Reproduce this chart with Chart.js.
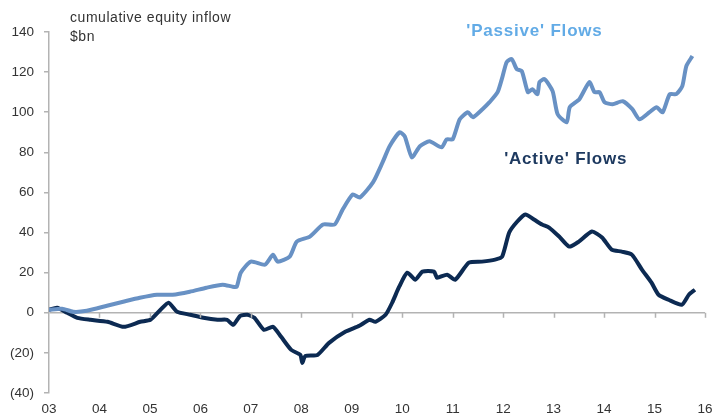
<!DOCTYPE html>
<html>
<head>
<meta charset="utf-8">
<script src="https://cdn.jsdelivr.net/npm/chart.js@4"></script>
<style>
  body { margin: 0; background: #fff; }
  canvas { display: block; }
</style>
</head>
<body>
<canvas id="flows" width="712" height="419"></canvas>
<script>
// cumulative equity inflow, $bn
const yearTicks = [2003, 2004, 2005, 2006, 2007, 2008, 2009, 2010, 2011, 2012, 2013, 2014, 2015, 2016]

const passiveYears = [2003.0, 2003.26, 2003.48, 2003.75, 2004.15, 2004.47, 2004.8, 2005.14, 2005.45, 2005.79,
  2006.12, 2006.44, 2006.64, 2006.72, 2006.8, 2007.0, 2007.28, 2007.44, 2007.53, 2007.77, 2007.91,
  2008.17, 2008.43, 2008.66, 2008.82, 2009.02, 2009.16, 2009.42, 2009.61, 2009.75, 2009.95,
  2010.05, 2010.19, 2010.35, 2010.54, 2010.78, 2010.88, 2011.0, 2011.14, 2011.3, 2011.4, 2011.59,
  2011.73, 2011.89, 2011.99, 2012.07, 2012.17, 2012.27, 2012.37, 2012.49, 2012.58, 2012.68, 2012.72,
  2012.82, 2012.98, 2013.08, 2013.26, 2013.32, 2013.51, 2013.71, 2013.81, 2013.91, 2014.01, 2014.17,
  2014.37, 2014.56, 2014.7, 2014.9, 2015.04, 2015.16, 2015.3, 2015.43, 2015.55, 2015.63, 2015.75]
const passiveFlows = [1.5, 2, 0.5, 1, 3.5, 5.5, 7.5, 9, 9, 10.5,
  12.5, 14, 13, 13, 20, 25.5, 24, 29, 25.5, 28, 35.5,
  38, 44, 44, 51.5, 59, 57.5, 65, 75, 83, 90,
  88, 77.5, 83, 85.5, 82.5, 86.5, 86.5, 96.5, 100, 97.5, 101.5,
  105, 110, 118, 125, 126.5, 121.5, 120.5, 110, 111.5, 109, 115,
  116.5, 110.5, 99, 95, 102.5, 106.5, 115, 110, 110, 105, 104,
  105.5, 101.5, 96.5, 100, 102.5, 100, 109, 109, 113, 123, 128]

const activeYears = [2003.0, 2003.16, 2003.36, 2003.56, 2003.82, 2004.16, 2004.48, 2004.81, 2005.01, 2005.21,
  2005.37, 2005.54, 2005.8, 2006.06, 2006.34, 2006.53, 2006.65, 2006.79, 2006.93, 2007.07, 2007.26,
  2007.44, 2007.6, 2007.8, 2007.98, 2008.02, 2008.08, 2008.32, 2008.55, 2008.87, 2009.15, 2009.35,
  2009.47, 2009.67, 2009.8, 2009.94, 2010.1, 2010.26, 2010.4, 2010.63, 2010.69, 2010.89, 2011.05,
  2011.32, 2011.58, 2011.84, 2011.98, 2012.12, 2012.28, 2012.44, 2012.61, 2012.77, 2012.91, 2013.11,
  2013.31, 2013.5, 2013.76, 2013.96, 2014.15, 2014.35, 2014.55, 2014.75, 2014.94, 2015.08, 2015.28,
  2015.54, 2015.68, 2015.8]
const activeFlows = [1.5, 2.5, 0, -2.5, -3.5, -4.5, -7, -4.5, -3.5, 1.5,
  5, 0.5, -1, -2.5, -3.5, -3.5, -6, -1.5, -1, -2.5, -8.5,
  -7, -12, -18.5, -21, -25, -21.5, -21, -15, -9.5, -6.5, -3.5,
  -4.5, -1, 5, 13, 20, 16.5, 20.5, 20.5, 17.5, 19, 16.5,
  25, 25.5, 26.5, 28, 40, 45.5, 49, 46.5, 44, 42.5, 38,
  33, 35.5, 40.5, 37.5, 31.5, 30.5, 29, 21.5, 15, 9, 6.5,
  4, 9, 11.5]

const FONT = '"Liberation Sans", Arial, sans-serif'

const toPoints = (xs, ys) => xs.map((x, i) => ({ x: x, y: ys[i] }))

// tick marks hanging off the zero line, plus the text labels
const decorPlugin = {
  id: 'decor',
  beforeDraw(chart) {
    chart.ctx.letterSpacing = '0px'
  },
  afterDraw(chart) {
    const { ctx, scales } = chart
    const x = scales.x, y = scales.y
    const y0 = y.getPixelForValue(0)
    ctx.save()
    ctx.strokeStyle = '#b3b3b3'
    ctx.lineWidth = 1.5
    yearTicks.slice(1).forEach(yr => {
      const px = Math.round(x.getPixelForValue(yr)) + 0.5
      ctx.beginPath()
      ctx.moveTo(px, y0)
      ctx.lineTo(px, y0 + 5)
      ctx.stroke()
    })

    ctx.fillStyle = '#333'
    ctx.font = '14px ' + FONT
    ctx.letterSpacing = '0.55px'
    ctx.textAlign = 'left'
    ctx.textBaseline = 'alphabetic'
    ctx.fillText('cumulative equity inflow', 70, 22)
    ctx.fillText('$bn', 70, 41)

    ctx.textAlign = 'center'
    ctx.textBaseline = 'middle'
    ctx.font = 'bold 17px ' + FONT
    ctx.letterSpacing = '0.8px'
    ctx.fillStyle = '#62abe6'
    ctx.fillText("'Passive' Flows", x.getPixelForValue(2012.62), y.getPixelForValue(140.5))
    ctx.fillStyle = '#1e3a60'
    ctx.fillText("'Active' Flows", x.getPixelForValue(2013.24), y.getPixelForValue(76.5))
    ctx.letterSpacing = '0px'
    ctx.restore()
  }
}

const config = {
  type: 'line',
  data: {
    datasets: [
      {
        label: "'Passive' Flows",
        data: toPoints(passiveYears, passiveFlows),
        borderColor: '#6891c4',
        borderWidth: 4,
        pointRadius: 0,
        tension: 0.2
      },
      {
        label: "'Active' Flows",
        data: toPoints(activeYears, activeFlows),
        borderColor: '#0c2a52',
        borderWidth: 4,
        pointRadius: 0,
        tension: 0.2
      }
    ]
  },
  options: {
    responsive: false,
    animation: false,
    layout: { padding: { top: 32, right: 7, left: 0, bottom: 0 } },
    plugins: { legend: { display: false }, tooltip: { enabled: false } },
    scales: {
      x: {
        type: 'linear',
        min: 2003,
        max: 2016,
        afterBuildTicks: s => { s.ticks = yearTicks.map(v => ({ value: v })) },
        ticks: {
          callback: v => String(v).slice(2),
          font: { family: FONT, size: 13.5 },
          color: '#333',
          padding: 8,
          maxRotation: 0,
          autoSkip: false
        },
        grid: { display: false, drawTicks: false },
        border: { display: false },
        afterFit: s => { s.height = 26; s.paddingLeft = 0; s.paddingRight = 0 }
      },
      y: {
        min: -40,
        max: 140,
        ticks: {
          stepSize: 20,
          callback: v => v < 0 ? '(' + (-v) + ')' : String(v),
          font: { family: FONT, size: 13.5 },
          color: '#333',
          padding: 10
        },
        grid: {
          color: c => c.tick && c.tick.value === 0 ? '#b3b3b3' : 'rgba(0,0,0,0)',
          lineWidth: 1.5,
          tickColor: '#b3b3b3',
          tickLength: 5
        },
        border: { color: '#b3b3b3', width: 1.5 },
        afterFit: s => { s.width = 49; s.paddingTop = 0; s.paddingBottom = 0 }
      }
    }
  },
  plugins: [decorPlugin]
}

const flowChart = new Chart(document.getElementById('flows'), config)
</script>
</body>
</html>
